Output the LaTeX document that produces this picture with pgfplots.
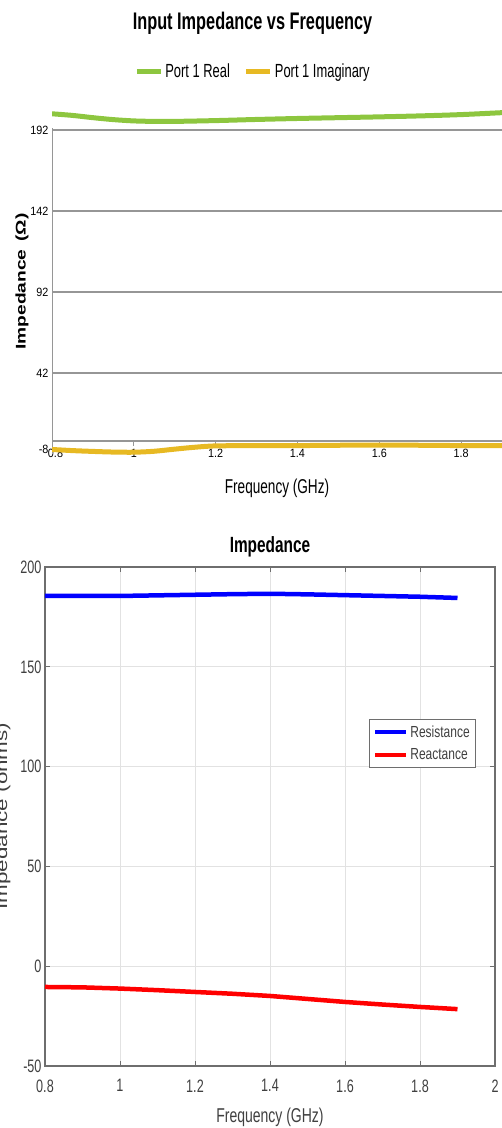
\documentclass[border=0pt]{standalone}
\usepackage{pgfplots}
\pgfplotsset{compat=1.18}
\usepackage{fontspec}
\setmainfont{Liberation Sans}
\newfontfamily\condfont[FakeStretch=0.68]{Liberation Sans}
\newfontfamily\tickfont[FakeStretch=0.9]{Liberation Sans}
\newfontfamily\wideboldfont[FakeStretch=1.37]{Liberation Sans}
\newfontfamily\matfont[FakeStretch=0.7]{Liberation Sans}
\newfontfamily\matlegfont[FakeStretch=0.75]{Liberation Sans}
\newfontfamily\matwidefont[FakeStretch=1.4]{Liberation Sans}

\definecolor{realgreen}{RGB}{141,198,63}
\definecolor{imagyellow}{RGB}{231,185,35}
\definecolor{gridgray}{RGB}{150,150,150}
\definecolor{matgrid}{RGB}{226,226,226}
\definecolor{mataxis}{RGB}{110,110,110}
\definecolor{mattext}{RGB}{64,64,64}

\begin{document}
\begin{tikzpicture}[x=1pt,y=1pt]
\useasboundingbox (0pt,0pt) rectangle (502pt,-1128pt);
\clip (0pt,0pt) rectangle (502pt,-1128pt);

% ---------- upper chart: port 1 input impedance ----------
\node[font=\condfont\bfseries\fontsize{24}{26}\selectfont] at (252.5pt,-23pt) {Input Impedance vs Frequency};
\node[font=\condfont\fontsize{20}{22}\selectfont] at (277pt,-488pt) {Frequency (GHz)};
\node[rotate=90, font=\wideboldfont\bfseries\fontsize{14}{16}\selectfont] at (22pt,-281.5pt) {Impedance\hspace{8pt}(Ω)};

\begin{axis}[
  at={(52pt,-454pt)}, anchor=south west,
  scale only axis, width=450pt, height=346.7pt,
  xmin=0.8, xmax=1.9, ymin=-8, ymax=206,
  axis line style={draw=none},
  xtick={0.8,1,1.2,1.4,1.6,1.8},
  xticklabels={\hspace{7pt}0.8,1,1.2,1.4,1.6,1.8},
  ytick={42,92,142,192},
  extra y ticks={-8},
  extra y tick style={grid=none, yticklabel style={yshift=5pt}},
  major tick length=0pt,
  ymajorgrids, grid style={gridgray, line width=1.3pt},
  tick label style={font=\tickfont\fontsize{12}{13}\selectfont, text=black},
  /pgf/number format/assume math mode=true,
  xticklabel style={anchor=center, yshift=1pt},
  legend style={at={(axis description cs:0.4467,1.1047)}, anchor=center,
    draw=none, fill=none, legend columns=2,
    font=\condfont\fontsize{19}{21}\selectfont,
    /tikz/every even column/.append style={column sep=12pt}},
  legend image code/.code={\draw[#1, line width=5pt] (0pt,0pt) -- (24pt,0pt);},
]
\draw[gridgray, line width=1.3pt] (axis cs:0.8,0) -- (axis cs:1.9,0);
\draw[gridgray, line width=1.3pt] (axis cs:0.8,-8) -- (axis cs:0.8,193);
\pgfplotsinvokeforeach{1,1.2,1.4,1.6,1.8}{
  \draw[gridgray, line width=1pt] (axis cs:#1,0) -- ++(0pt,-5pt);
}
\addplot[realgreen, line width=5pt, smooth] coordinates {
  (0.8,202.0) (0.85,201.0) (0.9,199.6) (0.95,198.4) (1.0,197.6) (1.05,197.3)
  (1.1,197.3) (1.2,197.8) (1.3,198.5) (1.4,199.1) (1.5,199.6) (1.6,200.1)
  (1.7,200.7) (1.8,201.5) (1.9,202.7)
};
\addlegendentry{Port 1 Real}
\addplot[imagyellow, line width=5pt, smooth] coordinates {
  (0.8,-5.2) (0.85,-5.9) (0.9,-6.4) (0.95,-6.8) (1.0,-6.9) (1.05,-6.3)
  (1.1,-5.0) (1.15,-3.8) (1.2,-3.0) (1.3,-2.8) (1.4,-2.8) (1.5,-2.6)
  (1.6,-2.5) (1.7,-2.6) (1.8,-2.8) (1.9,-2.9)
};
\addlegendentry{Port 1 Imaginary}
\end{axis}

% ---------- lower chart: resistance and reactance ----------
\node[font=\matfont\bfseries\fontsize{22}{24}\selectfont, text=black] at (270pt,-547pt) {Impedance};
\node[font=\matfont\fontsize{20}{22}\selectfont, text=mattext] at (270pt,-1117pt) {Frequency (GHz)};
\node[rotate=90, anchor=base, font=\matwidefont\fontsize{16}{18}\selectfont, text=mattext] at (7pt,-816pt) {Impedance (ohms)};

\begin{axis}[
  at={(45pt,-1066pt)}, anchor=south west,
  scale only axis, width=450pt, height=499pt,
  xmin=0.8, xmax=2, ymin=-50, ymax=200,
  xtick={0.8,1,1.2,1.4,1.6,1.8,2},
  ytick={-50,0,50,100,150,200},
  grid=major, grid style={matgrid, line width=1pt},
  axis line style={mataxis, line width=1.3pt},
  tick style={mataxis, line width=1pt}, tick align=inside, major tick length=5pt,
  tick label style={font=\matfont\fontsize{18}{20}\selectfont, text=mattext},
  /pgf/number format/assume math mode=true,
  xticklabel style={yshift=-10pt},
  legend style={at={(axis description cs:0.72,0.6954)}, anchor=north west,
    draw=mataxis, line width=0.8pt, fill=white,
    font=\matlegfont\fontsize{16}{18}\selectfont, text=mattext,
    row sep=6pt, inner sep=4pt},
  legend cell align=left,
  legend image code/.code={\draw[#1, line width=4pt] (0pt,0pt) -- (31pt,0pt);},
]
\addplot[blue, line width=4.5pt] coordinates {
  (0.8,185.5) (0.9,185.5) (1.0,185.5) (1.1,185.8) (1.2,186.1) (1.3,186.4)
  (1.4,186.6) (1.5,186.3) (1.6,185.9) (1.7,185.5) (1.8,185.1) (1.9,184.5)
};
\addlegendentry{Resistance}
\addplot[red, line width=4.5pt] coordinates {
  (0.8,-10.4) (0.9,-10.6) (1.0,-11.2) (1.1,-12.0) (1.2,-12.9) (1.3,-13.8)
  (1.4,-14.9) (1.5,-16.4) (1.6,-17.9) (1.7,-19.2) (1.8,-20.4) (1.9,-21.5)
};
\addlegendentry{Reactance}
\end{axis}
\end{tikzpicture}
\end{document}
